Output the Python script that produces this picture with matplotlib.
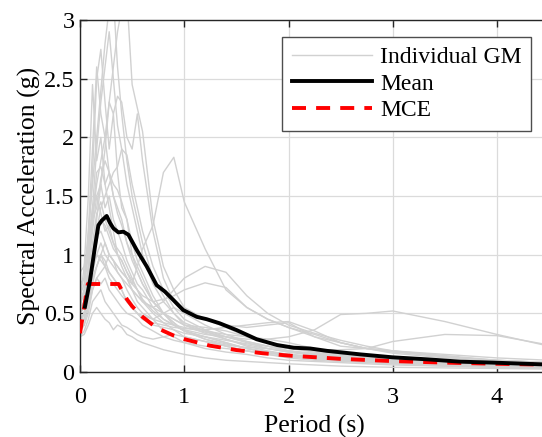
import numpy as np
import matplotlib
matplotlib.use('Agg')
import matplotlib.pyplot as plt
from matplotlib.ticker import FormatStrFormatter, MultipleLocator

plt.rcParams['font.family'] = ['Liberation Serif', 'DejaVu Serif']
plt.rcParams['mathtext.fontset'] = 'stix'

# ---------------- data ----------------
# period grid shared by the individual ground motion spectra
periodGM = [0, 0.04, 0.08, 0.12, 0.16, 0.2, 0.24, 0.28, 0.32, 0.36, 0.4, 0.45, 0.5, 0.55, 0.6,
            0.7, 0.8, 0.9, 1.0, 1.2, 1.4, 1.6, 1.8, 2.0, 2.25, 2.5, 2.75, 3.0, 3.5, 4.0, 4.5]

gm01 = [0.70, 0.80, 1.20, 1.60, 2.00, 2.40, 2.80, 3.10, 3.20, 2.60, 2.20, 1.80, 1.50, 1.30, 1.10,
        0.80, 0.65, 0.50, 0.42, 0.35, 0.28, 0.22, 0.18, 0.15, 0.12, 0.10, 0.09, 0.08, 0.06, 0.05, 0.04]
gm02 = [0.50, 0.55, 0.80, 1.00, 1.30, 1.60, 1.90, 2.30, 2.60, 2.90, 3.10, 3.20, 2.45, 2.25, 2.05,
        1.30, 0.90, 0.70, 0.55, 0.45, 0.38, 0.30, 0.25, 0.22, 0.18, 0.15, 0.12, 0.10, 0.08, 0.06, 0.05]
gm03 = [0.60, 0.90, 1.50, 2.45, 1.80, 2.00, 1.60, 1.40, 1.20, 1.00, 0.90, 0.80, 0.70, 0.60, 0.55,
        0.45, 0.35, 0.30, 0.25, 0.20, 0.17, 0.15, 0.12, 0.10, 0.09, 0.08, 0.07, 0.06, 0.05, 0.04, 0.035]
gm04 = [0.55, 0.70, 1.10, 1.70, 2.50, 2.75, 2.30, 1.90, 2.20, 1.70, 1.40, 1.30, 1.00, 0.85, 0.75,
        0.60, 0.50, 0.42, 0.35, 0.30, 0.25, 0.20, 0.17, 0.15, 0.13, 0.11, 0.10, 0.09, 0.07, 0.06, 0.05]
gm05 = [0.65, 0.75, 1.00, 1.40, 1.90, 2.30, 2.60, 2.90, 2.50, 2.10, 1.90, 1.60, 1.40, 1.20, 1.00,
        0.75, 0.60, 0.50, 0.40, 0.33, 0.28, 0.23, 0.20, 0.17, 0.14, 0.12, 0.10, 0.09, 0.07, 0.06, 0.05]
gm06 = [0.40, 0.45, 0.60, 0.80, 0.90, 1.00, 1.10, 1.00, 0.95, 0.90, 0.85, 0.80, 0.75, 0.90, 1.05,
        1.25, 1.70, 1.83, 1.45, 1.05, 0.70, 0.55, 0.45, 0.38, 0.30, 0.25, 0.20, 0.18, 0.14, 0.10, 0.08]
gm07 = [0.50, 0.60, 0.90, 1.30, 1.60, 1.80, 2.00, 2.30, 2.20, 2.35, 2.30, 2.00, 1.90, 2.20, 1.80,
        1.20, 0.80, 0.60, 0.50, 0.40, 0.32, 0.26, 0.22, 0.18, 0.15, 0.13, 0.11, 0.10, 0.08, 0.06, 0.05]
gm08 = [0.45, 0.50, 0.70, 1.00, 1.20, 1.40, 1.50, 1.60, 1.70, 1.75, 1.90, 1.85, 1.60, 1.40, 1.20,
        0.90, 0.70, 0.55, 0.45, 0.36, 0.30, 0.25, 0.20, 0.17, 0.15, 0.13, 0.11, 0.10, 0.08, 0.06, 0.05]
gm09 = [0.50, 0.60, 0.90, 1.20, 1.50, 1.60, 1.40, 1.50, 1.30, 1.20, 1.10, 0.95, 0.85, 0.75, 0.70,
        0.55, 0.45, 0.40, 0.35, 0.30, 0.25, 0.20, 0.17, 0.14, 0.12, 0.10, 0.09, 0.08, 0.06, 0.05, 0.04]
gm10 = [0.40, 0.50, 0.70, 0.95, 1.15, 1.20, 1.10, 1.00, 0.95, 0.90, 0.85, 0.80, 0.70, 0.65, 0.60,
        0.55, 0.50, 0.45, 0.40, 0.38, 0.35, 0.30, 0.25, 0.20, 0.17, 0.14, 0.12, 0.10, 0.08, 0.07, 0.06]
gm11 = [0.30, 0.32, 0.40, 0.50, 0.55, 0.50, 0.45, 0.42, 0.36, 0.40, 0.38, 0.32, 0.30, 0.27, 0.25,
        0.22, 0.19, 0.17, 0.15, 0.12, 0.10, 0.09, 0.08, 0.07, 0.06, 0.05, 0.045, 0.04, 0.035, 0.03, 0.025]
gm12 = [0.35, 0.40, 0.55, 0.70, 0.80, 0.85, 0.90, 0.80, 0.75, 0.70, 0.65, 0.60, 0.55, 0.50, 0.48,
        0.45, 0.42, 0.40, 0.38, 0.34, 0.30, 0.28, 0.28, 0.30, 0.36, 0.49, 0.50, 0.52, 0.43, 0.32, 0.22]
gm13 = [0.40, 0.45, 0.60, 0.75, 0.90, 1.00, 0.95, 0.85, 0.80, 0.75, 0.70, 0.60, 0.55, 0.50, 0.45,
        0.40, 0.38, 0.36, 0.33, 0.30, 0.27, 0.24, 0.22, 0.20, 0.19, 0.19, 0.20, 0.26, 0.32, 0.31, 0.23]
gm14 = [0.45, 0.50, 0.70, 0.90, 1.00, 1.10, 1.00, 0.95, 0.90, 0.85, 0.80, 0.75, 0.70, 0.65, 0.60,
        0.55, 0.60, 0.70, 0.80, 0.90, 0.85, 0.65, 0.50, 0.40, 0.33, 0.27, 0.22, 0.18, 0.13, 0.10, 0.08]
gm15 = [0.50, 0.55, 0.75, 0.95, 1.10, 1.30, 1.25, 1.15, 1.05, 1.00, 0.95, 0.85, 0.75, 0.70, 0.65,
        0.60, 0.62, 0.65, 0.70, 0.76, 0.72, 0.55, 0.45, 0.38, 0.32, 0.25, 0.20, 0.17, 0.13, 0.10, 0.08]
gm16 = [0.40, 0.45, 0.60, 0.80, 0.90, 1.00, 0.90, 0.85, 0.80, 0.75, 0.70, 0.60, 0.55, 0.50, 0.45,
        0.42, 0.40, 0.38, 0.37, 0.36, 0.38, 0.40, 0.42, 0.43, 0.35, 0.25, 0.20, 0.16, 0.12, 0.09, 0.07]
gm17 = [0.55, 0.60, 0.85, 1.10, 1.35, 1.45, 1.30, 1.20, 1.10, 1.05, 1.00, 0.90, 0.80, 0.70, 0.60,
        0.50, 0.42, 0.36, 0.30, 0.26, 0.22, 0.18, 0.15, 0.13, 0.11, 0.10, 0.09, 0.08, 0.06, 0.05, 0.04]
gm18 = [0.75, 0.80, 1.00, 1.30, 1.70, 1.75, 1.60, 1.70, 1.50, 1.35, 1.25, 1.10, 0.95, 0.85, 0.75,
        0.60, 0.50, 0.42, 0.35, 0.28, 0.24, 0.20, 0.17, 0.15, 0.13, 0.11, 0.10, 0.09, 0.07, 0.06, 0.05]
gm19 = [0.35, 0.40, 0.50, 0.70, 0.80, 0.75, 0.80, 0.70, 0.65, 0.60, 0.55, 0.50, 0.48, 0.45, 0.40,
        0.35, 0.30, 0.27, 0.25, 0.22, 0.20, 0.18, 0.16, 0.14, 0.12, 0.10, 0.09, 0.08, 0.065, 0.05, 0.04]
gm20 = [0.60, 0.65, 0.90, 1.30, 1.40, 1.65, 1.80, 1.70, 1.60, 1.55, 1.45, 1.30, 1.10, 0.95, 0.85,
        0.65, 0.50, 0.45, 0.40, 0.35, 0.32, 0.30, 0.28, 0.25, 0.20, 0.16, 0.13, 0.11, 0.08, 0.06, 0.05]
gm21 = [0.45, 0.50, 0.65, 0.85, 1.00, 0.95, 0.90, 1.00, 0.95, 0.85, 0.80, 0.70, 0.62, 0.55, 0.50,
        0.45, 0.50, 0.55, 0.50, 0.45, 0.40, 0.38, 0.40, 0.42, 0.30, 0.22, 0.20, 0.18, 0.15, 0.12, 0.10]
gm22 = [0.60, 0.70, 1.20, 1.90, 2.60, 2.20, 2.00, 1.70, 1.50, 1.40, 1.30, 1.10, 1.00, 0.90, 0.80,
        0.60, 0.50, 0.40, 0.35, 0.28, 0.22, 0.18, 0.15, 0.12, 0.10, 0.09, 0.08, 0.07, 0.05, 0.04, 0.035]
gm23 = [0.85, 0.90, 1.10, 1.40, 1.50, 1.35, 1.20, 1.25, 1.10, 1.00, 0.95, 0.85, 0.78, 0.70, 0.62,
        0.52, 0.45, 0.40, 0.36, 0.32, 0.30, 0.26, 0.22, 0.18, 0.15, 0.13, 0.11, 0.10, 0.08, 0.06, 0.05]
gm24 = [0.30, 0.35, 0.45, 0.60, 0.65, 0.70, 0.60, 0.55, 0.50, 0.45, 0.40, 0.38, 0.35, 0.32, 0.30,
        0.28, 0.30, 0.32, 0.30, 0.26, 0.23, 0.21, 0.20, 0.18, 0.16, 0.14, 0.12, 0.11, 0.09, 0.07, 0.06]

groundMotions = [gm01, gm02, gm03, gm04, gm05, gm06, gm07, gm08, gm09, gm10, gm11, gm12,
                 gm13, gm14, gm15, gm16, gm17, gm18, gm19, gm20, gm21, gm22, gm23, gm24]

# mean spectrum
periodMean = [0.048, 0.096, 0.144, 0.176, 0.208, 0.256, 0.288, 0.32, 0.368, 0.416, 0.464, 0.544,
              0.64, 0.735, 0.815, 0.895, 0.99, 1.12, 1.215, 1.34, 1.5, 1.695, 1.89, 2.05, 2.21,
              2.37, 2.69, 3.0, 3.33, 3.65, 3.96, 4.5]
saMean = [0.557, 0.78, 1.07, 1.25, 1.29, 1.33, 1.27, 1.225, 1.19, 1.196, 1.17, 1.04,
          0.90, 0.74, 0.685, 0.614, 0.528, 0.47, 0.45, 0.415, 0.358, 0.279, 0.23, 0.207, 0.20,
          0.18, 0.15, 0.125, 0.108, 0.088, 0.08, 0.063]

# MCE design spectrum
periodMCE = [0, 0.075, 0.37, 0.4, 0.45, 0.5, 0.6, 0.7, 0.8, 0.9, 1.0, 1.25, 1.5, 1.75, 2.0,
             2.5, 3.0, 3.5, 4.0, 4.5]
saMCE = [0.33, 0.75, 0.75, 0.70, 0.62, 0.56, 0.47, 0.40, 0.35, 0.31, 0.28, 0.224, 0.187, 0.16,
         0.14, 0.112, 0.093, 0.08, 0.07, 0.062]

# ---------------- plot ----------------
W, H = 542, 437
fig = plt.figure(figsize=(W / 100, H / 100), dpi=100)
pxPerUnit = 104.25
ax = fig.add_axes([80 / W, 65 / H, 4.5 * pxPerUnit / W, 352 / H])

gmColor = (0.82, 0.82, 0.82)
for i, sa in enumerate(groundMotions):
    ax.plot(periodGM, sa, color=gmColor, linewidth=1.0,
            label='Individual GM' if i == 0 else None, zorder=2)
ax.plot(periodMean, saMean, color='black', linewidth=2.8, label='Mean', zorder=4)
ax.plot(periodMCE, saMCE, color='#ff0000', linewidth=2.8, linestyle=(0, (3.6, 2.6)),
        label='MCE', zorder=3)

ax.set_xlim(0, 4.5)
ax.set_ylim(0, 3)
ax.xaxis.set_major_locator(MultipleLocator(1))
ax.yaxis.set_major_locator(MultipleLocator(0.5))
ax.yaxis.set_major_formatter(FormatStrFormatter('%g'))
ax.grid(True, color=(0.86, 0.86, 0.86), linewidth=0.9)
ax.set_axisbelow(True)
ax.tick_params(direction='in', top=True, right=True, length=5, width=1,
               colors=(0.15, 0.15, 0.15), labelsize=17.5, labelcolor='black')
ax.tick_params(axis='x', pad=11)
ax.tick_params(axis='y', pad=4)
for sp in ax.spines.values():
    sp.set_color((0.15, 0.15, 0.15))
    sp.set_linewidth(1.0)

ax.set_xlabel('Period (s)', fontsize=18.5, labelpad=5)
ax.set_ylabel('Spectral Acceleration (g)', fontsize=18.5, labelpad=2)

leg = ax.legend(loc='upper right', bbox_to_anchor=(531 / W, 1 - 37 / H),
                bbox_transform=fig.transFigure, fontsize=17, frameon=True, fancybox=False,
                framealpha=1, edgecolor=(0.3, 0.3, 0.3), handlelength=3.4, handletextpad=0.35,
                borderpad=0.4, labelspacing=0.22, borderaxespad=0)
leg.get_frame().set_linewidth(1.0)

fig.savefig('out.png', dpi=100)
